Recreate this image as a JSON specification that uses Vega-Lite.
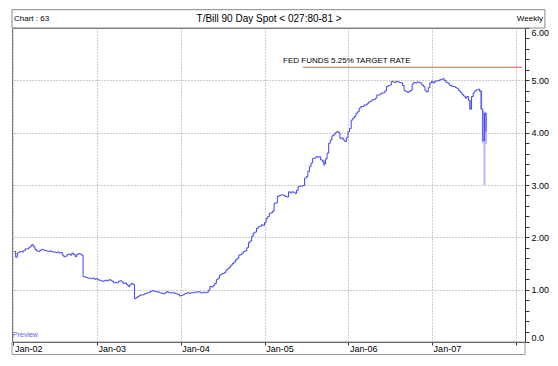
{
  "$schema": "https://vega.github.io/schema/vega-lite/v6.json",
  "width": 513,
  "height": 314,
  "autosize": {"type": "none"},
  "padding": {"left": 12, "top": 28, "right": 33, "bottom": 24},
  "background": "white",
  "config": {
    "font": "Liberation Sans",
    "view": {"stroke": "#777", "strokeWidth": 1},
    "axis": {"labelFont": "Liberation Sans", "labelOverlap": false, "labelFlush": false},
    "text": {"font": "Liberation Sans"}
  },
  "datasets": {
    "tbill": [
      {"d":"2002-01-04","v":1.73},{"d":"2002-01-11","v":1.62},{"d":"2002-01-18","v":1.70},{"d":"2002-01-25","v":1.72},
      {"d":"2002-02-01","v":1.73},{"d":"2002-02-08","v":1.72},{"d":"2002-02-15","v":1.75},{"d":"2002-02-22","v":1.78},
      {"d":"2002-03-01","v":1.78},{"d":"2002-03-08","v":1.80},{"d":"2002-03-15","v":1.83},{"d":"2002-03-22","v":1.86},{"d":"2002-03-29","v":1.82},
      {"d":"2002-04-05","v":1.77},{"d":"2002-04-12","v":1.74},{"d":"2002-04-19","v":1.73},{"d":"2002-04-26","v":1.75},
      {"d":"2002-05-03","v":1.77},{"d":"2002-05-10","v":1.76},{"d":"2002-05-17","v":1.75},{"d":"2002-05-24","v":1.74},{"d":"2002-05-31","v":1.73},
      {"d":"2002-06-07","v":1.74},{"d":"2002-06-14","v":1.73},{"d":"2002-06-21","v":1.72},{"d":"2002-06-28","v":1.72},
      {"d":"2002-07-05","v":1.71},{"d":"2002-07-12","v":1.72},{"d":"2002-07-19","v":1.70},{"d":"2002-07-26","v":1.71},
      {"d":"2002-08-02","v":1.66},{"d":"2002-08-09","v":1.63},{"d":"2002-08-16","v":1.64},{"d":"2002-08-23","v":1.67},{"d":"2002-08-30","v":1.68},
      {"d":"2002-09-06","v":1.66},{"d":"2002-09-13","v":1.70},{"d":"2002-09-20","v":1.67},{"d":"2002-09-27","v":1.63},
      {"d":"2002-10-04","v":1.67},{"d":"2002-10-11","v":1.69},{"d":"2002-10-18","v":1.68},{"d":"2002-10-25","v":1.66},
      {"d":"2002-11-01","v":1.25},{"d":"2002-11-08","v":1.24},{"d":"2002-11-15","v":1.23},{"d":"2002-11-22","v":1.22},{"d":"2002-11-29","v":1.22},
      {"d":"2002-12-06","v":1.21},{"d":"2002-12-13","v":1.22},{"d":"2002-12-20","v":1.20},{"d":"2002-12-27","v":1.21},
      {"d":"2003-01-03","v":1.19},{"d":"2003-01-10","v":1.18},{"d":"2003-01-17","v":1.17},{"d":"2003-01-24","v":1.16},{"d":"2003-01-31","v":1.17},
      {"d":"2003-02-07","v":1.18},{"d":"2003-02-14","v":1.17},{"d":"2003-02-21","v":1.19},{"d":"2003-02-28","v":1.18},
      {"d":"2003-03-07","v":1.16},{"d":"2003-03-14","v":1.13},{"d":"2003-03-21","v":1.14},{"d":"2003-03-28","v":1.13},
      {"d":"2003-04-04","v":1.16},{"d":"2003-04-11","v":1.17},{"d":"2003-04-18","v":1.15},{"d":"2003-04-25","v":1.12},
      {"d":"2003-05-02","v":1.13},{"d":"2003-05-09","v":1.10},{"d":"2003-05-16","v":1.06},{"d":"2003-05-23","v":1.09},{"d":"2003-05-30","v":1.12},
      {"d":"2003-06-06","v":1.10},{"d":"2003-06-13","v":0.83},{"d":"2003-06-20","v":0.85},{"d":"2003-06-27","v":0.87},
      {"d":"2003-07-04","v":0.89},{"d":"2003-07-11","v":0.90},{"d":"2003-07-18","v":0.90},{"d":"2003-07-25","v":0.92},
      {"d":"2003-08-01","v":0.93},{"d":"2003-08-08","v":0.94},{"d":"2003-08-15","v":0.95},{"d":"2003-08-22","v":0.97},{"d":"2003-08-29","v":0.98},
      {"d":"2003-09-05","v":0.97},{"d":"2003-09-12","v":0.96},{"d":"2003-09-19","v":0.96},{"d":"2003-09-26","v":0.95},
      {"d":"2003-10-03","v":0.94},{"d":"2003-10-10","v":0.93},{"d":"2003-10-17","v":0.92},{"d":"2003-10-24","v":0.94},{"d":"2003-10-31","v":0.96},
      {"d":"2003-11-07","v":0.95},{"d":"2003-11-14","v":0.94},{"d":"2003-11-21","v":0.94},{"d":"2003-11-28","v":0.94},
      {"d":"2003-12-05","v":0.93},{"d":"2003-12-12","v":0.92},{"d":"2003-12-19","v":0.91},{"d":"2003-12-26","v":0.88},
      {"d":"2004-01-02","v":0.89},{"d":"2004-01-09","v":0.90},{"d":"2004-01-16","v":0.92},{"d":"2004-01-23","v":0.93},{"d":"2004-01-30","v":0.94},
      {"d":"2004-02-06","v":0.93},{"d":"2004-02-13","v":0.94},{"d":"2004-02-20","v":0.94},{"d":"2004-02-27","v":0.95},
      {"d":"2004-03-05","v":0.95},{"d":"2004-03-12","v":0.96},{"d":"2004-03-19","v":0.96},{"d":"2004-03-26","v":0.94},
      {"d":"2004-04-02","v":0.94},{"d":"2004-04-09","v":0.95},{"d":"2004-04-16","v":0.94},{"d":"2004-04-23","v":0.95},{"d":"2004-04-30","v":0.99},
      {"d":"2004-05-07","v":1.06},{"d":"2004-05-14","v":1.05},{"d":"2004-05-21","v":1.08},{"d":"2004-05-28","v":1.12},
      {"d":"2004-06-04","v":1.19},{"d":"2004-06-11","v":1.22},{"d":"2004-06-18","v":1.28},{"d":"2004-06-25","v":1.30},
      {"d":"2004-07-02","v":1.31},{"d":"2004-07-09","v":1.33},{"d":"2004-07-16","v":1.38},{"d":"2004-07-23","v":1.40},{"d":"2004-07-30","v":1.43},
      {"d":"2004-08-06","v":1.47},{"d":"2004-08-13","v":1.50},{"d":"2004-08-20","v":1.53},{"d":"2004-08-27","v":1.57},
      {"d":"2004-09-03","v":1.60},{"d":"2004-09-10","v":1.66},{"d":"2004-09-17","v":1.67},{"d":"2004-09-24","v":1.70},
      {"d":"2004-10-01","v":1.73},{"d":"2004-10-08","v":1.74},{"d":"2004-10-15","v":1.80},{"d":"2004-10-22","v":1.90},{"d":"2004-10-29","v":1.93},
      {"d":"2004-11-05","v":2.02},{"d":"2004-11-12","v":2.08},{"d":"2004-11-19","v":2.10},{"d":"2004-11-26","v":2.17},
      {"d":"2004-12-03","v":2.20},{"d":"2004-12-10","v":2.21},{"d":"2004-12-17","v":2.24},{"d":"2004-12-24","v":2.23},{"d":"2004-12-31","v":2.28},
      {"d":"2005-01-07","v":2.36},{"d":"2005-01-14","v":2.40},{"d":"2005-01-21","v":2.46},{"d":"2005-01-28","v":2.47},
      {"d":"2005-02-04","v":2.50},{"d":"2005-02-11","v":2.65},{"d":"2005-02-18","v":2.66},{"d":"2005-02-25","v":2.78},
      {"d":"2005-03-04","v":2.80},{"d":"2005-03-11","v":2.81},{"d":"2005-03-18","v":2.81},{"d":"2005-03-25","v":2.80},
      {"d":"2005-04-01","v":2.78},{"d":"2005-04-08","v":2.77},{"d":"2005-04-15","v":2.87},{"d":"2005-04-22","v":2.85},{"d":"2005-04-29","v":2.87},
      {"d":"2005-05-06","v":2.86},{"d":"2005-05-13","v":2.84},{"d":"2005-05-20","v":2.90},{"d":"2005-05-27","v":2.97},
      {"d":"2005-06-03","v":2.98},{"d":"2005-06-10","v":2.98},{"d":"2005-06-17","v":2.99},{"d":"2005-06-24","v":3.13},
      {"d":"2005-07-01","v":3.16},{"d":"2005-07-08","v":3.26},{"d":"2005-07-15","v":3.35},{"d":"2005-07-22","v":3.42},{"d":"2005-07-29","v":3.51},
      {"d":"2005-08-05","v":3.51},{"d":"2005-08-12","v":3.54},{"d":"2005-08-19","v":3.53},{"d":"2005-08-26","v":3.54},
      {"d":"2005-09-02","v":3.48},{"d":"2005-09-09","v":3.45},{"d":"2005-09-16","v":3.40},{"d":"2005-09-23","v":3.50},{"d":"2005-09-30","v":3.61},
      {"d":"2005-10-07","v":3.80},{"d":"2005-10-14","v":3.86},{"d":"2005-10-21","v":3.94},{"d":"2005-10-28","v":3.96},
      {"d":"2005-11-04","v":4.00},{"d":"2005-11-11","v":4.02},{"d":"2005-11-18","v":4.00},{"d":"2005-11-25","v":3.89},
      {"d":"2005-12-02","v":3.90},{"d":"2005-12-09","v":3.86},{"d":"2005-12-16","v":3.83},{"d":"2005-12-23","v":3.90},{"d":"2005-12-30","v":4.02},
      {"d":"2006-01-06","v":4.08},{"d":"2006-01-13","v":4.24},{"d":"2006-01-20","v":4.28},{"d":"2006-01-27","v":4.31},
      {"d":"2006-02-03","v":4.37},{"d":"2006-02-10","v":4.40},{"d":"2006-02-17","v":4.47},{"d":"2006-02-24","v":4.50},
      {"d":"2006-03-03","v":4.50},{"d":"2006-03-10","v":4.53},{"d":"2006-03-17","v":4.53},{"d":"2006-03-24","v":4.56},{"d":"2006-03-31","v":4.59},
      {"d":"2006-04-07","v":4.60},{"d":"2006-04-14","v":4.63},{"d":"2006-04-21","v":4.63},{"d":"2006-04-28","v":4.66},
      {"d":"2006-05-05","v":4.72},{"d":"2006-05-12","v":4.72},{"d":"2006-05-19","v":4.74},{"d":"2006-05-26","v":4.76},
      {"d":"2006-06-02","v":4.76},{"d":"2006-06-09","v":4.80},{"d":"2006-06-16","v":4.88},{"d":"2006-06-23","v":4.90},{"d":"2006-06-30","v":4.91},
      {"d":"2006-07-07","v":4.98},{"d":"2006-07-14","v":4.97},{"d":"2006-07-21","v":4.96},{"d":"2006-07-28","v":4.98},
      {"d":"2006-08-04","v":4.97},{"d":"2006-08-11","v":4.96},{"d":"2006-08-18","v":4.95},{"d":"2006-08-25","v":4.90},
      {"d":"2006-09-01","v":4.80},{"d":"2006-09-08","v":4.79},{"d":"2006-09-15","v":4.77},{"d":"2006-09-22","v":4.79},{"d":"2006-09-29","v":4.81},
      {"d":"2006-10-06","v":4.93},{"d":"2006-10-13","v":4.96},{"d":"2006-10-20","v":4.95},{"d":"2006-10-27","v":4.97},
      {"d":"2006-11-03","v":4.96},{"d":"2006-11-10","v":4.95},{"d":"2006-11-17","v":4.91},{"d":"2006-11-24","v":4.88},
      {"d":"2006-12-01","v":4.80},{"d":"2006-12-08","v":4.78},{"d":"2006-12-15","v":4.86},{"d":"2006-12-22","v":4.95},{"d":"2006-12-29","v":4.98},
      {"d":"2007-01-05","v":4.95},{"d":"2007-01-12","v":4.98},{"d":"2007-01-19","v":4.99},{"d":"2007-01-26","v":4.99},
      {"d":"2007-02-02","v":5.01},{"d":"2007-02-09","v":5.02},{"d":"2007-02-16","v":5.03},{"d":"2007-02-23","v":5.00},
      {"d":"2007-03-02","v":4.96},{"d":"2007-03-09","v":4.95},{"d":"2007-03-16","v":4.91},{"d":"2007-03-23","v":4.90},{"d":"2007-03-30","v":4.88},
      {"d":"2007-04-06","v":4.88},{"d":"2007-04-13","v":4.86},{"d":"2007-04-20","v":4.84},{"d":"2007-04-27","v":4.80},
      {"d":"2007-05-04","v":4.77},{"d":"2007-05-11","v":4.73},{"d":"2007-05-18","v":4.70},{"d":"2007-05-25","v":4.66},
      {"d":"2007-06-01","v":4.69},{"d":"2007-06-08","v":4.62},{"d":"2007-06-15","v":4.45},{"d":"2007-06-22","v":4.69},{"d":"2007-06-29","v":4.76},
      {"d":"2007-07-06","v":4.80},{"d":"2007-07-13","v":4.82},{"d":"2007-07-20","v":4.83},{"d":"2007-07-27","v":4.79},
      {"d":"2007-08-03","v":4.45},{"d":"2007-08-10","v":3.85},{"d":"2007-08-17","v":4.37},{"d":"2007-08-24","v":4.02}
    ],
    "ranges": [
      {"d":"2005-09-16","lo":3.36,"hi":3.48},
      {"d":"2007-06-15","lo":4.44,"hi":4.62},
      {"d":"2007-08-03","lo":4.44,"hi":4.82},
      {"d":"2007-08-10","lo":3.80,"hi":4.42},
      {"d":"2007-08-17","lo":3.00,"hi":4.40},
      {"d":"2007-08-24","lo":3.78,"hi":4.38}
    ],
    "fed": [
      {"s":"2005-06-17","e":"2008-01-28","r":5.25}
    ]
  },
  "layer": [
    {
      "data": {"name": "ranges"},
      "mark": {"type": "rule", "color": "#b8b8f6", "strokeWidth": 2},
      "encoding": {
        "x": {
          "field": "d", "type": "temporal",
          "scale": {"domain": [{"year":2001,"month":12,"date":26},{"year":2008,"month":2,"date":10}]},
          "axis": {
            "values": [{"year":2002,"month":1,"date":1},{"year":2003,"month":1,"date":1},{"year":2004,"month":1,"date":1},{"year":2005,"month":1,"date":1},{"year":2006,"month":1,"date":1},{"year":2007,"month":1,"date":1},{"year":2008,"month":1,"date":1}],
            "tickCount": 50,
            "format": "%b-%y",
            "labelExpr": "year(datum.value) < 2008 ? datum.label : ''",
            "title": null,
            "grid": true, "gridDash": [1, 2], "gridColor": "#9a9a9a",
            "domainColor": "#333", "tickColor": "#333", "tickSize": 3,
            "labelFontSize": 9, "labelColor": "#000", "labelAlign": "left", "labelBaseline": "middle",
            "labelPadding": 3, "labelOffset": 1, "labelFlush": false, "labelOverlap": false
          }
        },
        "y": {
          "field": "lo", "type": "quantitative",
          "scale": {"domain": [0, 6], "nice": false, "zero": false},
          "axis": {
            "orient": "right",
            "values": [0,0.2,0.4,0.6,0.8,1,1.2,1.4,1.6,1.8,2,2.2,2.4,2.6,2.8,3,3.2,3.4,3.6,3.8,4,4.2,4.4,4.6,4.8,5,5.2,5.4,5.6,5.8,6],
            "tickCount": 100,
            "labelExpr": "datum.value == 0 ? '0.0' : (abs(datum.value - round(datum.value)) < 0.001 ? format(datum.value, '.2f') : '')",
            "title": null,
            "grid": true, "gridDash": [1, 2], "gridColor": "#9a9a9a",
            "gridOpacity": {"condition": {"test": "abs(datum.value - round(datum.value)) < 0.001 && datum.value > 0.5 && datum.value < 5.5", "value": 1}, "value": 0},
            "domainColor": "#333", "tickColor": "#333", "tickSize": 4,
            "labelFontSize": 9, "labelColor": "#000", "labelPadding": 2, "labelFlush": true, "labelOverlap": false
          }
        },
        "y2": {"field": "hi"}
      }
    },
    {
      "data": {"name": "tbill"},
      "mark": {"type": "line", "color": "#4040f2", "strokeWidth": 1, "interpolate": "step-after"},
      "encoding": {
        "x": {"field": "d", "type": "temporal"},
        "y": {"field": "v", "type": "quantitative"}
      }
    },
    {
      "data": {"name": "fed"},
      "mark": {"type": "rule", "color": "#ff4d4d", "strokeWidth": 1},
      "encoding": {
        "x": {"field": "s", "type": "temporal"},
        "x2": {"field": "e"},
        "y": {"field": "r", "type": "quantitative"}
      }
    },
    {
      "data": {"values": [{}]},
      "mark": {"type": "rect", "fill": "transparent", "stroke": "#999", "strokeWidth": 1, "clip": false},
      "encoding": {
        "x": {"datum": {"year":2001,"month":12,"date":26}, "type": "temporal"},
        "x2": {"datum": {"year":2008,"month":2,"date":10}},
        "y": {"datum": 0, "type": "quantitative"},
        "y2": {"datum": -0.24}
      }
    },
    {
      "data": {"values": [{}]},
      "mark": {"type": "rect", "fill": "white", "stroke": "#888", "strokeWidth": 1, "clip": false},
      "encoding": {
        "x": {"datum": {"year":2001,"month":12,"date":26}, "type": "temporal"},
        "x2": {"datum": {"year":2008,"month":5,"date":7}},
        "y": {"datum": 6, "type": "quantitative"},
        "y2": {"datum": 6.35}
      }
    },
    {
      "data": {"values": [{"t": "T/Bill 90 Day Spot < 027:80-81 >"}]},
      "mark": {"type": "text", "fontSize": 10, "align": "center", "baseline": "middle", "color": "#000", "clip": false},
      "encoding": {
        "x": {"datum": {"year":2005,"month":1,"date":20}, "type": "temporal"},
        "y": {"datum": 6.175, "type": "quantitative"},
        "text": {"field": "t"}
      }
    },
    {
      "data": {"values": [{"t": "Chart : 63"}]},
      "mark": {"type": "text", "fontSize": 8, "align": "left", "baseline": "middle", "dx": 2, "color": "#000", "clip": false},
      "encoding": {
        "x": {"datum": {"year":2001,"month":12,"date":26}, "type": "temporal"},
        "y": {"datum": 6.175, "type": "quantitative"},
        "text": {"field": "t"}
      }
    },
    {
      "data": {"values": [{"t": "Weekly"}]},
      "mark": {"type": "text", "fontSize": 8, "align": "right", "baseline": "middle", "dx": -2, "color": "#000", "clip": false},
      "encoding": {
        "x": {"datum": {"year":2008,"month":5,"date":7}, "type": "temporal"},
        "y": {"datum": 6.175, "type": "quantitative"},
        "text": {"field": "t"}
      }
    },
    {
      "data": {"values": [{"t": "FED FUNDS 5.25% TARGET RATE"}]},
      "mark": {"type": "text", "fontSize": 8, "align": "left", "baseline": "middle", "color": "#000"},
      "encoding": {
        "x": {"datum": {"year":2005,"month":3,"date":22}, "type": "temporal"},
        "y": {"datum": 5.36, "type": "quantitative"},
        "text": {"field": "t"}
      }
    },
    {
      "data": {"values": [{"t": "Preview"}]},
      "mark": {"type": "text", "fontSize": 7, "align": "left", "baseline": "middle", "dx": 1, "color": "#6262e0"},
      "encoding": {
        "x": {"datum": {"year":2001,"month":12,"date":26}, "type": "temporal"},
        "y": {"datum": 0.14, "type": "quantitative"},
        "text": {"field": "t"}
      }
    }
  ]
}
